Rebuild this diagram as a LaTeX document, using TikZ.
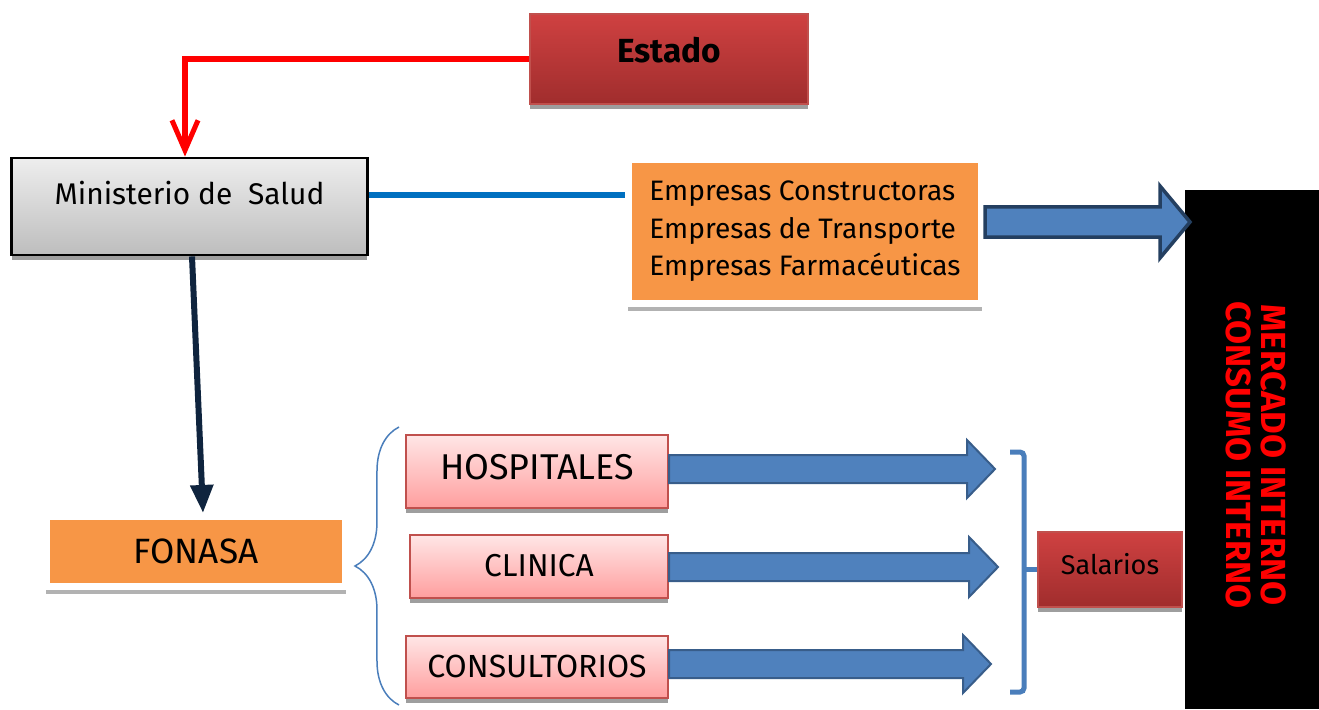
\documentclass[tikz,border=0pt]{standalone}
\usepackage{fontspec}
\setmainfont{Fira Sans}
\usetikzlibrary{calc,shadows,arrows.meta,decorations.pathreplacing}

\definecolor{estadoTop}{HTML}{CF4141}
\definecolor{estadoBot}{HTML}{A02D2D}
\definecolor{estadoDraw}{HTML}{C0504D}
\definecolor{grayTop}{HTML}{EEEEEE}
\definecolor{grayBot}{HTML}{BDBDBD}
\definecolor{pinkTop}{HTML}{FFE6E6}
\definecolor{pinkBot}{HTML}{FF9E9E}
\definecolor{pinkDraw}{HTML}{C0504D}
\definecolor{orangeFill}{HTML}{F79646}
\definecolor{navy}{HTML}{0F243E}
\definecolor{lineBlue}{HTML}{0070C0}
\definecolor{arrowFill}{HTML}{4F81BD}
\definecolor{arrowEdge}{HTML}{385D8A}
\definecolor{arrowEdgeDark}{HTML}{243F60}
\definecolor{bracketBlue}{HTML}{4A7EBB}

\newcommand{\fatarrow}[6]{%
  \draw[#1] let \p1=(#2), \p2=(#3) in
    (\x1,\y2+#4) -- (\x2-#6,\y2+#4) -- (\x2-#6,\y2+#5) -- (\x2,\y2)
    -- (\x2-#6,\y2-#5) -- (\x2-#6,\y2-#4) -- (\x1,\y2-#4) -- cycle;}

\begin{document}
\begin{tikzpicture}[x=0.01cm, y=-0.01cm,
  box/.style={rectangle, inner sep=0pt, text height=1.3ex,
    drop shadow={shadow xshift=0cm, shadow yshift=-0.05cm, fill=black!38, opacity=1}},
  redbox/.style={box, draw=estadoDraw, line width=0.4pt, top color=estadoTop, bottom color=estadoBot},
  graybox/.style={box, draw=black, line width=0.8pt, top color=grayTop, bottom color=grayBot},
  pinkbox/.style={box, draw=pinkDraw, line width=0.6pt, top color=pinkTop, bottom color=pinkBot},
  orangebox/.style={rectangle, inner sep=0pt, fill=orangeFill, draw=white, line width=0.07cm,
    drop shadow={shadow xshift=0cm, shadow yshift=-0.075cm, fill=black!30, opacity=1}},
  fatarrow/.style={fill=arrowFill, draw=arrowEdge, line width=0.02cm, line join=miter},
  bigarrow/.style={fill=arrowFill, draw=arrowEdgeDark, line width=0.035cm, line join=miter},
  bracket/.style={draw=bracketBlue, line width=0.05cm, rounded corners=0.04cm}
]
\useasboundingbox (0,0) rectangle (1319,709);

% boxes
\node[redbox, minimum width=2.78cm, minimum height=0.90cm, text depth=0.18cm,
  font=\bfseries\fontsize{9.5}{11}\selectfont] (estado) at (669,59) {Estado};
\node[graybox, minimum width=3.55cm, minimum height=0.97cm, text depth=0.29cm,
  font=\fontsize{8.5}{10}\selectfont] (ministerio) at (189.5,206.5) {Ministerio de~~Salud};
\node[orangebox, minimum width=3.53cm, minimum height=1.44cm, align=left,
  font=\fontsize{8}{10.7}\selectfont] (empresas) at (805,231.5)
  {Empresas Constructoras\\Empresas de Transporte\\Empresas Farmacéuticas};
\node[orangebox, minimum width=2.99cm, minimum height=0.70cm, text height=1.3ex,
  font=\fontsize{10}{12}\selectfont] (fonasa) at (196,551.5) {FONASA};
\node[pinkbox, minimum width=2.62cm, minimum height=0.73cm, text depth=0.09cm,
  font=\fontsize{10.2}{12}\selectfont] (hosp) at (537,471.5) {HOSPITALES};
\node[pinkbox, minimum width=2.58cm, minimum height=0.63cm, text depth=0.05cm,
  font=\fontsize{9}{11}\selectfont] (clin) at (539,566.5) {CLINICA};
\node[pinkbox, minimum width=2.62cm, minimum height=0.62cm, text depth=0.04cm,
  font=\fontsize{9.1}{11}\selectfont] (cons) at (537,667) {CONSULTORIOS};
\node[redbox, minimum width=1.44cm, minimum height=0.75cm, text depth=0.15cm,
  font=\fontsize{7.7}{9}\selectfont] (salarios) at (1110,569.5) {Salarios};
\node[fill=black, minimum width=1.34cm, minimum height=5.19cm, inner sep=0pt] (mercado) at (1252,449.5) {};
\node[text=red, rotate=-90, align=center, font=\bfseries\fontsize{9.9}{10.2}\selectfont]
  (mercadoText) at (1256,455) {MERCADO INTERNO\\CONSUMO INTERNO};

% connectors
\draw[red, line width=0.05cm, -{Straight Barb[length=0.3cm, width=0.26cm, line width=0.05cm]}]
  (estado.west) -| ([xshift=-0.045cm]ministerio.north);
\draw[lineBlue, line width=0.06cm] ([yshift=0.115cm]ministerio.east) coordinate (blueStart)
  -- (blueStart -| empresas.west);
\draw[navy, line width=0.06cm, -{Triangle[length=0.28cm, width=0.22cm]}]
  ([xshift=0.025cm]ministerio.south) -- ([xshift=0.07cm]fonasa.north);

% block arrows
\coordinate (empTip) at (1190,222);
\coordinate (hospTip) at (995,469);
\coordinate (clinTip) at (998,567);
\coordinate (consTip) at (991,664);
\fatarrow{bigarrow}{empresas.east |- empTip}{empTip}{0.15cm}{0.36cm}{0.30cm}
\fatarrow{fatarrow}{hosp.east}{hospTip}{0.14cm}{0.29cm}{0.28cm}
\fatarrow{fatarrow}{clin.east}{clinTip}{0.14cm}{0.30cm}{0.29cm}
\fatarrow{fatarrow}{cons.east}{consTip}{0.14cm}{0.29cm}{0.28cm}

% braces
\coordinate (braceBot) at (399,705);
\coordinate (braceTop) at (399,427);
\draw[bracketBlue, line width=0.015cm, decorate, decoration={brace, amplitude=0.44cm}]
  (braceBot) -- (braceTop);
\coordinate (brTop) at (1010,452);
\coordinate (brBot) at (1010,692);
\coordinate (brSpine) at (1024,452);
\draw[bracket] (brTop) -- (brSpine) -- (brSpine |- brBot) -- (brBot);
\draw[bracket] (salarios.west) -- (salarios.west -| brSpine);
\end{tikzpicture}
\end{document}
